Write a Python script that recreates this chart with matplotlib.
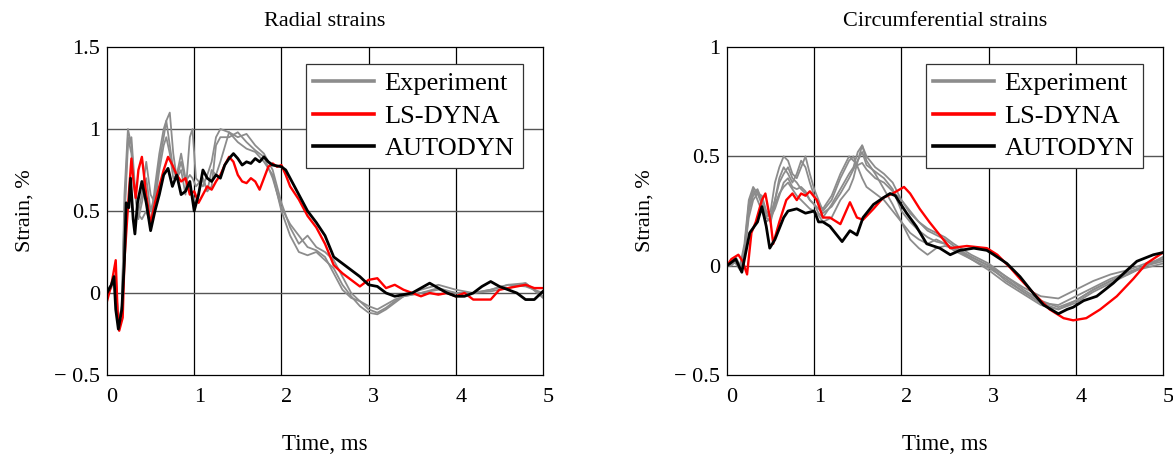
import matplotlib
matplotlib.use("Agg")
import matplotlib.pyplot as plt
import matplotlib.transforms as mtransforms

plt.rcParams['font.family'] = ['Liberation Serif', 'DejaVu Serif']

# ---------------- Radial strains (left) ----------------
rad_exp_t = [0, 0.05, 0.1, 0.13, 0.17, 0.2, 0.24, 0.28, 0.32, 0.36, 0.4, 0.45, 0.5, 0.55,
             0.6, 0.65, 0.68, 0.72, 0.76, 0.8, 0.85, 0.9, 0.95, 0.98, 1.02, 1.1, 1.15, 1.2,
             1.25, 1.3, 1.4, 1.5, 1.6, 1.7, 1.8, 1.9, 2.0, 2.1, 2.2, 2.3, 2.4, 2.5, 2.6,
             2.7, 2.8, 2.9, 3.0, 3.1, 3.2, 3.3, 3.4, 3.6, 3.8, 4.0, 4.2, 4.4, 4.6, 4.8, 5.0]
rad_exp1 = [0, 0.05, 0.1, -0.2, -0.1, 0.6, 1.0, 0.9, 0.6, 0.48, 0.45, 0.5, 0.42, 0.65,
            0.85, 1.0, 1.05, 1.1, 0.85, 0.7, 0.75, 0.6, 0.95, 1.0, 0.7, 0.65, 0.72, 0.8,
            0.95, 1.0, 0.98, 0.95, 0.97, 0.9, 0.85, 0.75, 0.55, 0.4, 0.3, 0.35, 0.28, 0.25, 0.2,
            0.1, 0.0, -0.05, -0.1, -0.12, -0.09, -0.05, -0.02, 0.0, 0.03, 0.0, 0.0, 0.02, 0.05, 0.06, -0.02]
rad_exp2 = [0.02, 0.05, 0.08, -0.18, -0.08, 0.5, 0.95, 0.85, 0.62, 0.45, 0.55, 0.7, 0.5, 0.6,
            0.8, 0.95, 1.05, 0.9, 0.75, 0.7, 0.8, 0.68, 0.72, 0.7, 0.65, 0.7, 0.62, 0.75,
            0.72, 0.8, 0.98, 0.92, 0.88, 0.86, 0.8, 0.72, 0.5, 0.35, 0.25, 0.23, 0.25, 0.2, 0.15,
            0.05, -0.02, -0.08, -0.12, -0.13, -0.1, -0.06, -0.02, 0.0, 0.02, 0.0, 0.0, 0.01, 0.03, 0.06, -0.03]
rad_exp3 = [0.0, 0.03, 0.12, -0.2, -0.1, 0.45, 0.9, 0.95, 0.65, 0.5, 0.6, 0.8, 0.6, 0.55,
            0.75, 0.9, 0.95, 0.85, 0.7, 0.72, 0.85, 0.7, 0.65, 0.6, 0.55, 0.7, 0.62, 0.65,
            0.9, 0.95, 0.95, 0.98, 0.92, 0.87, 0.83, 0.7, 0.52, 0.42, 0.35, 0.28, 0.26, 0.22, 0.12,
            0.02, -0.03, -0.05, -0.08, -0.1, -0.07, -0.04, -0.02, 0.02, 0.05, 0.02, 0.0, 0.02, 0.05, 0.04, 0.0]

rad_ls_t = [0, 0.05, 0.1, 0.12, 0.14, 0.18, 0.2, 0.25, 0.28, 0.3, 0.33, 0.36, 0.4, 0.45,
            0.5, 0.55, 0.6, 0.65, 0.7, 0.75, 0.8, 0.85, 0.9, 0.95, 1.0, 1.05, 1.1, 1.15,
            1.2, 1.25, 1.3, 1.35, 1.4, 1.45, 1.5, 1.55, 1.6, 1.65, 1.7, 1.75, 1.8, 1.85,
            1.9, 1.95, 2.0, 2.05, 2.1, 2.2, 2.3, 2.4, 2.5, 2.6, 2.7, 2.8, 2.9, 3.0, 3.1,
            3.2, 3.3, 3.4, 3.5, 3.6, 3.7, 3.8, 3.9, 4.0, 4.1, 4.2, 4.3, 4.4, 4.5, 4.6,
            4.7, 4.8, 4.9, 5.0]
rad_ls = [-0.05, 0.05, 0.2, -0.1, -0.23, -0.15, 0.2, 0.6, 0.82, 0.7, 0.58, 0.75, 0.83, 0.6,
          0.42, 0.55, 0.65, 0.75, 0.83, 0.78, 0.72, 0.68, 0.7, 0.6, 0.62, 0.55, 0.6, 0.65,
          0.63, 0.68, 0.72, 0.78, 0.83, 0.8, 0.72, 0.68, 0.67, 0.7, 0.68, 0.63, 0.7, 0.77,
          0.79, 0.77, 0.78, 0.72, 0.65, 0.57, 0.47, 0.4, 0.3, 0.17, 0.12, 0.08, 0.04, 0.08, 0.09,
          0.03, 0.05, 0.02, 0.0, -0.02, 0.0, -0.01, 0.0, -0.02, 0.0, -0.04, -0.04, -0.04, 0.02, 0.03,
          0.04, 0.05, 0.03, 0.03]

rad_ad_t = [0, 0.05, 0.08, 0.1, 0.13, 0.17, 0.2, 0.22, 0.25, 0.27, 0.3, 0.32, 0.35, 0.4,
            0.45, 0.5, 0.55, 0.6, 0.65, 0.7, 0.75, 0.8, 0.85, 0.9, 0.95, 1.0, 1.05, 1.1,
            1.15, 1.2, 1.25, 1.3, 1.35, 1.4, 1.45, 1.5, 1.55, 1.6, 1.65, 1.7, 1.75, 1.8,
            1.85, 1.9, 2.0, 2.05, 2.1, 2.2, 2.3, 2.4, 2.5, 2.6, 2.7, 2.8, 2.9, 3.0, 3.1,
            3.2, 3.3, 3.4, 3.5, 3.6, 3.7, 3.8, 3.9, 4.0, 4.1, 4.2, 4.3, 4.4, 4.5, 4.6,
            4.7, 4.8, 4.9, 5.0]
rad_ad = [0, 0.05, 0.1, -0.1, -0.22, -0.1, 0.2, 0.55, 0.52, 0.7, 0.45, 0.36, 0.55, 0.68,
          0.55, 0.38, 0.5, 0.6, 0.72, 0.76, 0.65, 0.72, 0.6, 0.62, 0.68, 0.5, 0.6, 0.75,
          0.7, 0.68, 0.72, 0.7, 0.78, 0.82, 0.85, 0.82, 0.78, 0.8, 0.79, 0.82, 0.8, 0.83,
          0.8, 0.78, 0.77, 0.75, 0.7, 0.6, 0.5, 0.43, 0.35, 0.22, 0.18, 0.14, 0.1, 0.05, 0.04,
          0.0, -0.02, -0.01, 0.0, 0.03, 0.06, 0.03, 0.0, -0.02, -0.02, 0.0, 0.04, 0.07, 0.04, 0.02,
          0.0, -0.04, -0.04, 0.01]

# ---------------- Circumferential strains (right) ----------------
cir_exp_t = [0, 0.05, 0.1, 0.15, 0.2, 0.25, 0.3, 0.35, 0.4, 0.45, 0.5, 0.55, 0.6, 0.65,
             0.7, 0.75, 0.8, 0.85, 0.9, 0.95, 1.0, 1.05, 1.1, 1.2, 1.3, 1.4, 1.45, 1.5,
             1.55, 1.6, 1.7, 1.8, 1.9, 2.0, 2.1, 2.2, 2.3, 2.4, 2.5, 2.6, 2.8, 3.0, 3.2,
             3.4, 3.6, 3.8, 4.0, 4.2, 4.4, 4.6, 4.8, 5.0]
cir_exp1 = [0, 0.02, 0.04, 0.0, 0.05, 0.25, 0.32, 0.34, 0.3, 0.22, 0.25, 0.38, 0.45, 0.5,
            0.48, 0.42, 0.4, 0.45, 0.5, 0.42, 0.35, 0.3, 0.25, 0.3, 0.4, 0.48, 0.5, 0.45,
            0.4, 0.36, 0.33, 0.3, 0.25, 0.2, 0.15, 0.12, 0.1, 0.12, 0.1, 0.07, 0.03, -0.01, -0.06,
            -0.12, -0.17, -0.18, -0.14, -0.1, -0.06, -0.03, 0.0, 0.02]
cir_exp2 = [0, 0.01, 0.03, -0.01, 0.08, 0.28, 0.35, 0.3, 0.25, 0.2, 0.22, 0.3, 0.38, 0.42,
            0.45, 0.4, 0.38, 0.35, 0.33, 0.3, 0.28, 0.24, 0.22, 0.28, 0.35, 0.42, 0.45, 0.52,
            0.55, 0.5, 0.45, 0.42, 0.38, 0.3, 0.25, 0.2, 0.17, 0.15, 0.13, 0.1, 0.05, 0.01, -0.05,
            -0.11, -0.16, -0.19, -0.16, -0.11, -0.07, -0.03, -0.01, 0.01]
cir_exp3 = [0, 0.0, 0.02, 0.0, 0.1, 0.3, 0.36, 0.33, 0.28, 0.22, 0.2, 0.28, 0.33, 0.36,
            0.38, 0.35, 0.32, 0.3, 0.28, 0.26, 0.25, 0.23, 0.2, 0.22, 0.3, 0.35, 0.4, 0.48,
            0.55, 0.48, 0.42, 0.35, 0.28, 0.2, 0.12, 0.08, 0.05, 0.08, 0.09, 0.08, 0.03, -0.02, -0.08,
            -0.13, -0.18, -0.2, -0.17, -0.12, -0.08, -0.04, 0.0, 0.03]
cir_exp4 = [0, 0.02, 0.01, -0.02, 0.06, 0.22, 0.3, 0.33, 0.32, 0.25, 0.23, 0.3, 0.4, 0.45,
            0.42, 0.38, 0.42, 0.48, 0.45, 0.38, 0.32, 0.28, 0.26, 0.32, 0.42, 0.5, 0.48, 0.46,
            0.47, 0.44, 0.4, 0.38, 0.34, 0.3, 0.24, 0.2, 0.16, 0.14, 0.12, 0.09, 0.04, 0.0, -0.05,
            -0.1, -0.14, -0.15, -0.11, -0.07, -0.04, -0.02, 0.01, 0.03]
cir_exp5 = [0, 0.01, 0.03, 0.0, 0.07, 0.26, 0.33, 0.35, 0.3, 0.24, 0.22, 0.26, 0.32, 0.38,
            0.4, 0.36, 0.35, 0.36, 0.34, 0.3, 0.28, 0.26, 0.24, 0.27, 0.33, 0.4, 0.44, 0.48,
            0.52, 0.46, 0.43, 0.4, 0.35, 0.25, 0.2, 0.16, 0.13, 0.11, 0.1, 0.08, 0.04, 0.0, -0.07,
            -0.12, -0.17, -0.2, -0.16, -0.11, -0.07, -0.04, 0.0, 0.04]

cir_ls_t = [0, 0.05, 0.13, 0.18, 0.23, 0.28, 0.33, 0.4, 0.44, 0.5, 0.53, 0.6, 0.68, 0.75,
            0.8, 0.85, 0.9, 0.95, 1.03, 1.1, 1.18, 1.3, 1.41, 1.49, 1.56, 1.68, 1.79, 1.9,
            2.03, 2.1, 2.21, 2.32, 2.44, 2.56, 2.75, 2.98, 3.1, 3.25, 3.36, 3.55, 3.7, 3.86,
            3.97, 4.12, 4.28, 4.47, 4.66, 4.81, 5.0]
cir_ls = [0, 0.03, 0.05, 0.02, -0.04, 0.15, 0.2, 0.3, 0.33, 0.2, 0.1, 0.2, 0.3, 0.33,
          0.3, 0.33, 0.32, 0.34, 0.3, 0.22, 0.22, 0.19, 0.29, 0.22, 0.21, 0.26, 0.31, 0.33,
          0.36, 0.33, 0.26, 0.2, 0.14, 0.08, 0.09, 0.08, 0.05, -0.01, -0.06, -0.14, -0.2, -0.24,
          -0.25, -0.24, -0.2, -0.14, -0.06, 0.01, 0.06]

cir_ad_t = [0, 0.1, 0.17, 0.26, 0.35, 0.4, 0.45, 0.49, 0.55, 0.6, 0.65, 0.7, 0.8, 0.9,
            1.0, 1.05, 1.1, 1.18, 1.32, 1.41, 1.49, 1.56, 1.68, 1.79, 1.87, 1.93, 2.06, 2.17,
            2.29, 2.44, 2.56, 2.67, 2.83, 2.98, 3.06, 3.21, 3.36, 3.52, 3.63, 3.8, 3.9, 3.97,
            4.09, 4.24, 4.43, 4.59, 4.7, 4.89, 5.0]
cir_ad = [0, 0.03, -0.03, 0.15, 0.2, 0.27, 0.18, 0.08, 0.12, 0.17, 0.22, 0.25, 0.26, 0.24,
          0.25, 0.2, 0.2, 0.18, 0.11, 0.16, 0.14, 0.22, 0.28, 0.31, 0.33, 0.32, 0.24, 0.18,
          0.1, 0.08, 0.05, 0.07, 0.08, 0.07, 0.05, 0.01, -0.05, -0.13, -0.18, -0.22, -0.2, -0.19,
          -0.16, -0.14, -0.08, -0.02, 0.02, 0.05, 0.06]

x_ticks = [0, 1, 2, 3, 4, 5]
rad_yticks = [-0.5, 0, 0.5, 1, 1.5]
rad_yticklabels = ['\u2212 0.5', '0', '0.5', '1', '1.5']
cir_yticks = [-0.5, 0, 0.5, 1]
cir_yticklabels = ['\u2212 0.5', '0', '0.5', '1']

GRAY = '#8c8c8c'
RED = '#ff0000'
BLACK = '#000000'

fig = plt.figure(figsize=(11.73, 4.54), dpi=100)
ax1 = fig.add_axes([107 / 1173, 1 - 375 / 454, 436 / 1173, 328 / 454])
ax2 = fig.add_axes([727 / 1173, 1 - 375 / 454, 436 / 1173, 328 / 454])


def style(ax, yticks, ylabels, ylim, title):
    ax.set_xlim(0, 5)
    ax.set_ylim(*ylim)
    ax.set_xticks(x_ticks)
    ax.set_xticklabels([str(v) for v in x_ticks])
    ax.set_yticks(yticks)
    ax.set_yticklabels(ylabels)
    ax.tick_params(axis='x', length=0, labelsize=16, pad=9)
    ax.tick_params(axis='y', length=0, labelsize=16, pad=5)
    shift = mtransforms.ScaledTranslation(5 / 100, 0, fig.dpi_scale_trans)
    for lab in ax.get_xticklabels():
        lab.set_transform(lab.get_transform() + shift)
    for x in x_ticks[1:-1]:
        ax.axvline(x, color='black', lw=0.9, zorder=0.5)
    for y in yticks[1:-1]:
        ax.axhline(y, color='#555555', lw=1.0, zorder=0.5)
    for s in ax.spines.values():
        s.set_linewidth(0.9)
        s.set_color('black')
    ax.set_title(title, fontsize=16, pad=15)
    ax.set_xlabel('Time, ms', fontsize=16.5, labelpad=20)
    ax.set_ylabel('Strain, %', fontsize=16, labelpad=14)


for i, v in enumerate([rad_exp1, rad_exp2, rad_exp3]):
    ax1.plot(rad_exp_t, v, color=GRAY, lw=1.3, label='Experiment' if i == 0 else None)
ax1.plot(rad_ls_t, rad_ls, color=RED, lw=1.7, label='LS-DYNA')
ax1.plot(rad_ad_t, rad_ad, color=BLACK, lw=2.0, label='AUTODYN')
style(ax1, rad_yticks, rad_yticklabels, (-0.5, 1.5), 'Radial strains')

for i, v in enumerate([cir_exp1, cir_exp2, cir_exp3, cir_exp4, cir_exp5]):
    ax2.plot(cir_exp_t, v, color=GRAY, lw=1.3, label='Experiment' if i == 0 else None)
ax2.plot(cir_ls_t, cir_ls, color=RED, lw=1.7, label='LS-DYNA')
ax2.plot(cir_ad_t, cir_ad, color=BLACK, lw=2.0, label='AUTODYN')
style(ax2, cir_yticks, cir_yticklabels, (-0.5, 1.0), 'Circumferential strains')

for ax in (ax1, ax2):
    leg = ax.legend(loc='upper right', bbox_to_anchor=(0.953, 0.948), fontsize=19,
                    frameon=True, fancybox=False, framealpha=1, edgecolor='#333333',
                    handlelength=2.3, handletextpad=0.4, labelspacing=0.34,
                    borderpad=0.3, borderaxespad=0)
    leg.get_frame().set_linewidth(0.9)
    for h in leg.get_lines():
        h.set_linewidth(2.6)

fig.savefig('out.png', dpi=100)
